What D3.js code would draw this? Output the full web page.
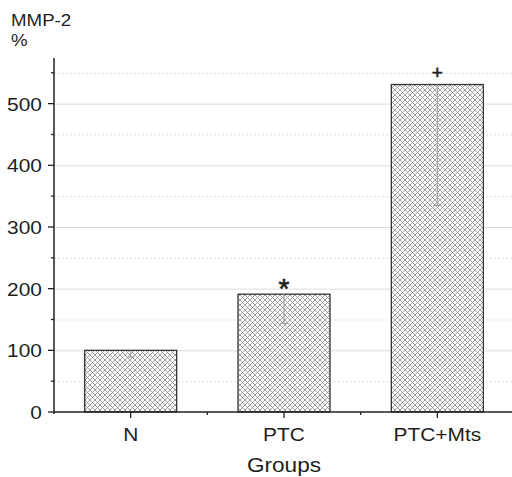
<!DOCTYPE html>
<html>
<head>
<meta charset="utf-8" />
<title>MMP-2</title>
<script src="https://cdn.jsdelivr.net/npm/d3@7/dist/d3.min.js"></script>
<style>
body { margin: 0; background: #fff; }
text { font-family: "Liberation Sans", Arial, sans-serif; fill: #1e1e1e; }
</style>
</head>
<body>
<div id="chart"></div>
<script>
// values
const groups = ["N", "PTC", "PTC+Mts"];
const means = [100, 191, 531];
const lowErr = [11, 47, 196];   // only the lower whisker is visible
const marks = ["", "*", "+"];
const yMajor = [0, 100, 200, 300, 400, 500];
const yMinor = [50, 150, 250, 350, 450, 550];

const width = 512, height = 477;
const margin = {top: 58, right: -2, bottom: 65, left: 54};
const sx = 1.1; // the text in the picture is a little wide

const svg = d3.select("#chart").append("svg")
	.attr("width", width)
	.attr("height", height);

const defs = svg.append("defs");
const pat = defs.append("pattern")
	.attr("id", "hatch")
	.attr("patternUnits", "userSpaceOnUse")
	.attr("width", 5)
	.attr("height", 5);
pat.append("rect").attr("width", 5).attr("height", 5).attr("fill", "#fff");
pat.append("path")
	.attr("d", "M-1,-1L6,6M6,-1L-1,6")
	.attr("stroke", "#8a8a8a")
	.attr("stroke-width", 0.8);

const x = d3.scaleBand()
	.domain(groups)
	.range([margin.left, width - margin.right])
	.paddingInner(0.4)
	.paddingOuter(0.2);

const y = d3.scaleLinear()
	.domain([0, 574])
	.range([height - margin.bottom, margin.top]);

const x0 = margin.left, x1 = width;

// grid
svg.append("g").selectAll("line")
	.data(yMinor)
	.enter().append("line")
		.attr("x1", x0).attr("x2", x1)
		.attr("y1", d => y(d) + 0.5).attr("y2", d => y(d) + 0.5)
		.attr("stroke", "#ddd")
		.attr("stroke-dasharray", "2,2");
svg.append("g").selectAll("line")
	.data(yMajor.slice(1))
	.enter().append("line")
		.attr("x1", x0).attr("x2", x1)
		.attr("y1", d => y(d) + 0.5).attr("y2", d => y(d) + 0.5)
		.attr("stroke", "#ddd");

// bars
svg.append("g").selectAll("rect")
	.data(groups)
	.enter().append("rect")
		.attr("x", d => x(d))
		.attr("y", (d, i) => y(means[i]))
		.attr("width", x.bandwidth())
		.attr("height", (d, i) => y(0) - y(means[i]))
		.attr("fill", "url(#hatch)")
		.attr("stroke", "#333")
		.attr("stroke-width", 1.3);

// lower error bars
const eb = svg.append("g").attr("stroke", "#999").attr("stroke-width", 1);
groups.forEach(function(g, i){
	const cx = x(g) + x.bandwidth() / 2;
	eb.append("line")
		.attr("x1", cx).attr("x2", cx)
		.attr("y1", y(means[i])).attr("y2", y(means[i] - lowErr[i]));
	eb.append("line")
		.attr("x1", cx - 4).attr("x2", cx + 4)
		.attr("y1", y(means[i] - lowErr[i])).attr("y2", y(means[i] - lowErr[i]));
});

// significance marks
svg.append("g").selectAll("text")
	.data(groups)
	.enter().append("text")
		.attr("x", d => x(d) + x.bandwidth() / 2)
		.attr("y", (d, i) => i == 1 ? y(means[i]) + 4 : y(means[i]) - 6)
		.attr("text-anchor", "middle")
		.attr("font-size", (d, i) => i == 1 ? 28 : 19)
		.attr("stroke", "#1e1e1e")
		.attr("stroke-width", 0.6)
		.text((d, i) => marks[i]);

// y axis
const yAxis = svg.append("g")
	.attr("transform", "translate(" + x0 + ",0)");
yAxis.append("line")
	.attr("y1", margin.top).attr("y2", y(0) + 2)
	.attr("stroke", "#222").attr("stroke-width", 1.5);
yAxis.selectAll(".maj").data(yMajor).enter().append("line")
	.attr("x1", -6).attr("x2", 0)
	.attr("y1", d => y(d)).attr("y2", d => y(d))
	.attr("stroke", "#222").attr("stroke-width", 1.3);
yAxis.selectAll(".min").data(yMinor).enter().append("line")
	.attr("x1", -3).attr("x2", 0)
	.attr("y1", d => y(d)).attr("y2", d => y(d))
	.attr("stroke", "#222").attr("stroke-width", 1.3);
yAxis.selectAll("text").data(yMajor).enter().append("text")
	.attr("transform", d => "translate(-12," + (y(d) + 7) + ") scale(" + sx + ",1)")
	.attr("text-anchor", "end")
	.attr("font-size", 19)
	.text(d => d);

// x axis
const xAxis = svg.append("g")
	.attr("transform", "translate(0," + y(0) + ")");
xAxis.append("line")
	.attr("x1", x0 - 1).attr("x2", x1)
	.attr("stroke", "#222").attr("stroke-width", 1.5);
xAxis.selectAll(".maj").data(groups).enter().append("line")
	.attr("x1", d => x(d) + x.bandwidth() / 2).attr("x2", d => x(d) + x.bandwidth() / 2)
	.attr("y1", 0).attr("y2", 6)
	.attr("stroke", "#222").attr("stroke-width", 1.3);
xAxis.selectAll(".min").data(groups.slice(1)).enter().append("line")
	.attr("x1", d => x(d) - x.step() * x.paddingInner() / 2)
	.attr("x2", d => x(d) - x.step() * x.paddingInner() / 2)
	.attr("y1", 0).attr("y2", 3)
	.attr("stroke", "#222").attr("stroke-width", 1.3);
xAxis.selectAll("text").data(groups).enter().append("text")
	.attr("transform", d => "translate(" + (x(d) + x.bandwidth() / 2) + ",28.5) scale(" + sx + ",1)")
	.attr("text-anchor", "middle")
	.attr("font-size", 19)
	.text(d => d);

// titles
svg.append("text")
	.attr("transform", "translate(" + (x("PTC") + x.bandwidth() / 2) + ",472) scale(1.13,1)")
	.attr("text-anchor", "middle")
	.attr("font-size", 20)
	.text("Groups");
svg.append("text")
	.attr("transform", "translate(11,26) scale(" + sx + ",1)")
	.attr("font-size", 17)
	.text("MMP-2");
svg.append("text")
	.attr("transform", "translate(11,46) scale(" + sx + ",1)")
	.attr("font-size", 17)
	.text("%");
</script>
</body>
</html>
